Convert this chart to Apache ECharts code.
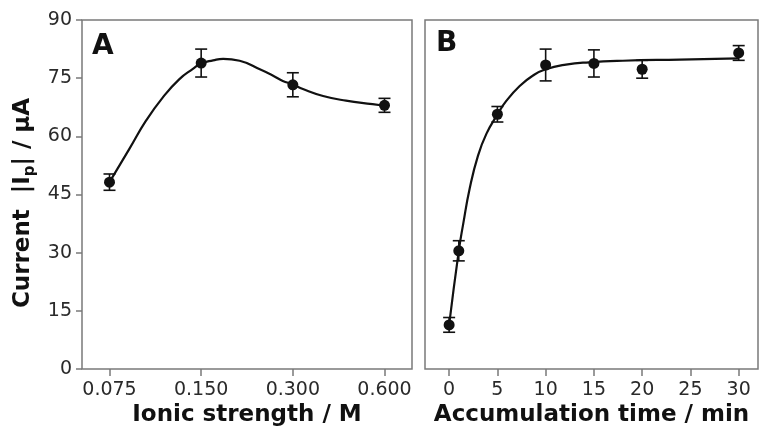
<!DOCTYPE html>
<html>
<head>
<meta charset="utf-8">
<script src="https://cdn.jsdelivr.net/npm/echarts@6/dist/echarts.min.js"></script>
<style>
  html, body { margin: 0; padding: 0; background: #fff; }
  #chart { width: 759px; height: 432px; }
</style>
</head>
<body>
<div id="chart"></div>
<script>
// panel A - ionic strength (categories, evenly spaced)
const ionicLabels = ['0.075', '0.150', '0.300', '0.600'];
const ionicCurrent = [48.2, 78.9, 73.3, 68.0];
const ionicError = [2.1, 3.6, 3.1, 1.8];
// fitted curve (x = category index)
const ionicFitX = [0, 0.22, 0.4, 0.58, 0.76, 0.91, 1.0, 1.13, 1.24, 1.42, 1.64, 1.78, 1.89, 2.0, 2.11, 2.33, 2.58, 2.87, 3.0];
const ionicFitY = [48.2, 56.9, 64.1, 70.0, 74.7, 77.4, 78.8, 79.6, 80.0, 79.5, 77.3, 75.7, 74.3, 73.4, 72.2, 70.4, 69.2, 68.3, 67.9];

// panel B - accumulation time
const accTime = [0, 1, 5, 10, 15, 20, 30];
const accCurrent = [11.4, 30.5, 65.7, 78.4, 78.8, 77.3, 81.5];
const accError = [1.9, 2.6, 2.0, 4.1, 3.5, 2.3, 1.9];
const accFitX = [0, 1.0, 1.45, 2.14, 3.0, 3.87, 4.97, 5.94, 7.31, 8.69, 10.0, 12.1, 14.5, 18, 23.9, 30];
const accFitY = [11.4, 30.5, 37.3, 46.7, 55.1, 60.7, 65.5, 69.2, 73.0, 75.7, 77.3, 78.5, 79.1, 79.5, 79.8, 80.1];

const timeTicks = [0, 5, 10, 15, 20, 25, 30];

const frameColor = '#7a7a7a';
const inkColor = '#111';
const font = 'DejaVu Sans';

const myChart = echarts.init(document.getElementById('chart'));

// error bars with caps, drawn through the axes
function errorBars(xs, ys, errs, idx) {
  return {
    type: 'custom',
    xAxisIndex: idx,
    yAxisIndex: idx,
    encode: { x: 0, y: [1, 2] },
    data: xs.map((x, i) => [x, ys[i] - errs[i], ys[i] + errs[i]]),
    renderItem: function (params, api) {
      const lo = api.coord([api.value(0), api.value(1)]);
      const hi = api.coord([api.value(0), api.value(2)]);
      const w = 6;
      const style = { stroke: inkColor, lineWidth: 1.6 };
      return {
        type: 'group',
        children: [
          { type: 'line', shape: { x1: lo[0], y1: lo[1], x2: hi[0], y2: hi[1] }, style: style },
          { type: 'line', shape: { x1: lo[0] - w, y1: lo[1], x2: lo[0] + w, y2: lo[1] }, style: style },
          { type: 'line', shape: { x1: hi[0] - w, y1: hi[1], x2: hi[0] + w, y2: hi[1] }, style: style }
        ]
      };
    },
    z: 3
  };
}

function fitLine(xs, ys, idx) {
  return {
    type: 'line',
    xAxisIndex: idx,
    yAxisIndex: idx,
    data: xs.map((x, i) => [x, ys[i]]),
    smooth: true,
    showSymbol: false,
    lineStyle: { color: inkColor, width: 2.2 },
    z: 2
  };
}

function points(xs, ys, idx) {
  return {
    type: 'scatter',
    xAxisIndex: idx,
    yAxisIndex: idx,
    data: xs.map((x, i) => [x, ys[i]]),
    symbolSize: 11,
    itemStyle: { color: inkColor, opacity: 1 },
    z: 4
  };
}

const labelStyle = { fontFamily: font, fontSize: 19, color: '#2a2a2a' };
const nameStyle = { fontFamily: font, fontSize: 23, fontWeight: 'bold', color: inkColor };

const ionicIdx = ionicLabels.map((_, i) => i);

const options = {
  animation: false,
  grid: [
    { left: 82, top: 20, width: 330, height: 353, show: true, borderColor: frameColor, borderWidth: 1.5 },
    { left: 425, top: 20, width: 333, height: 353, show: true, borderColor: frameColor, borderWidth: 1.5 }
  ],
  xAxis: [
    {
      gridIndex: 0,
      type: 'value',
      min: -0.3,
      max: 3.3,
      axisLine: { show: false, onZero: false },
      axisTick: { show: true, customValues: ionicIdx, length: 7, lineStyle: { color: frameColor, width: 1.5 } },
      axisLabel: { customValues: ionicIdx, formatter: (v) => ionicLabels[v], margin: 11, ...labelStyle },
      splitLine: { show: false },
      name: 'Ionic strength / M',
      nameLocation: 'middle',
      nameGap: 33,
      nameTextStyle: nameStyle
    },
    {
      gridIndex: 1,
      type: 'value',
      min: -2.5,
      max: 32,
      axisLine: { show: false, onZero: false },
      axisTick: { show: true, customValues: timeTicks, length: 7, lineStyle: { color: frameColor, width: 1.5 } },
      axisLabel: { customValues: timeTicks, margin: 11, ...labelStyle },
      splitLine: { show: false },
      name: 'Accumulation time / min',
      nameLocation: 'middle',
      nameGap: 33,
      nameTextStyle: nameStyle
    }
  ],
  yAxis: [
    {
      gridIndex: 0,
      type: 'value',
      min: 0,
      max: 90,
      interval: 15,
      axisLine: { show: false, onZero: false },
      axisTick: { show: true, length: 6, lineStyle: { color: frameColor, width: 1.5 } },
      axisLabel: { margin: 10, ...labelStyle },
      splitLine: { show: false }
    },
    {
      gridIndex: 1,
      type: 'value',
      min: 0,
      max: 90,
      interval: 15,
      axisLine: { show: false, onZero: false },
      axisTick: { show: false },
      axisLabel: { show: false },
      splitLine: { show: false }
    }
  ],
  graphic: [
    {
      type: 'text',
      x: 23,
      y: 203,
      rotation: Math.PI / 2,
      style: {
        text: '{a|Current  |I}{b|p}{a|| / μA}',
        align: 'center',
        verticalAlign: 'middle',
        rich: {
          a: { fontFamily: font, fontSize: 23, fontWeight: 'bold', fill: inkColor },
          b: { fontFamily: font, fontSize: 15, fontWeight: 'bold', fill: inkColor, padding: [14, 0, 0, 0] }
        }
      }
    },
    {
      type: 'text',
      left: 92,
      top: 33,
      style: { text: 'A', fontFamily: font, fontSize: 28, fontWeight: 'bold', fill: inkColor }
    },
    {
      type: 'text',
      left: 436,
      top: 30,
      style: { text: 'B', fontFamily: font, fontSize: 28, fontWeight: 'bold', fill: inkColor }
    }
  ],
  series: [
    fitLine(ionicFitX, ionicFitY, 0),
    errorBars(ionicIdx, ionicCurrent, ionicError, 0),
    points(ionicIdx, ionicCurrent, 0),
    fitLine(accFitX, accFitY, 1),
    errorBars(accTime, accCurrent, accError, 1),
    points(accTime, accCurrent, 1)
  ]
};

myChart.setOption(options);
</script>
</body>
</html>
